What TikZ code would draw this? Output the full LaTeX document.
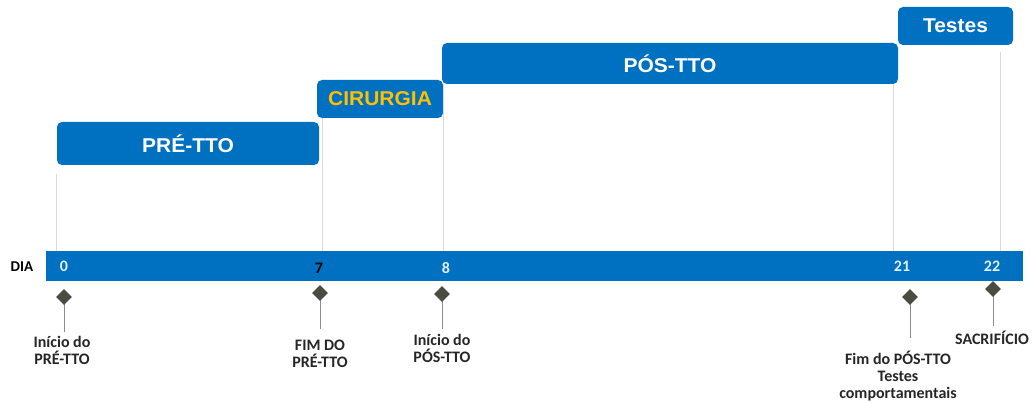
\documentclass[tikz,border=0pt]{standalone}
\usepackage{fontspec}
\setmainfont{Liberation Sans}
\newfontfamily\boxfont[FakeStretch=1.05]{Liberation Sans}
\newfontfamily\lblfont{Carlito}
\usetikzlibrary{shapes.geometric}
\definecolor{barblue}{HTML}{0070C0}
\definecolor{cirgold}{HTML}{FFC000}
\definecolor{markgray}{HTML}{4B4B42}
\definecolor{guidegray}{HTML}{DADADA}
\definecolor{stemgray}{HTML}{8C8C8C}
\definecolor{numlight}{HTML}{E2EEF9}
\begin{document}
\begin{tikzpicture}[x=1pt,y=-1pt,
  phase/.style={fill=barblue, rounded corners=5pt, text=white,
    font=\boxfont\bfseries\fontsize{20}{20}\selectfont, inner sep=0pt},
  guide/.style={draw=guidegray, line width=0.8pt},
  milestone/.style={diamond, fill=markgray, minimum width=16pt,
    minimum height=16pt, inner sep=0pt},
  stem/.style={draw=stemgray, line width=0.9pt},
  lbl/.style={font=\lblfont\bfseries\fontsize{16}{17}\selectfont,
    align=center, text=black!85, inner sep=0pt},
  daynum/.style={font=\lblfont\bfseries\fontsize{16}{16}\selectfont,
    inner sep=0pt, text=numlight}]

\useasboundingbox (0,0) rectangle (1032,403);

% phase boxes
\node[phase, minimum width=262pt, minimum height=43pt] (pre) at (188,143.5) {PRÉ-TTO};
\node[phase, minimum width=126pt, minimum height=38pt, text=cirgold] (cir) at (380,99) {CIRURGIA};
\node[phase, minimum width=456pt, minimum height=41pt] (pos) at (670,63.5) {PÓS-TTO};
\node[phase, minimum width=115pt, minimum height=38pt] (tst) at (955.5,26) {Testes};

% timeline bar
\node[fill=barblue, minimum width=977pt, minimum height=30pt, inner sep=0pt] (bar) at (534.5,266) {};
\node[lbl, font=\lblfont\bfseries\fontsize{15}{15}\selectfont, text=black] (dia) at (22,267) {DIA};

% guide lines from the phases down to the bar
\draw[guide] ([yshift=-9pt]pre.south west) -- (pre.south west |- bar.north);
\draw[guide] ([xshift=6pt]cir.south west) -- ([xshift=6pt]cir.south west |- bar.north);
\draw[guide] ([xshift=2pt]pos.south west) -- ([xshift=2pt]pos.south west |- bar.north);
\draw[guide] ([xshift=-5pt]pos.south east) -- ([xshift=-5pt]pos.south east |- bar.north);
\draw[guide] ([xshift=-13pt,yshift=-7pt]tst.south east) -- ([xshift=-13pt]tst.south east |- bar.north);

% day numbers
\node[daynum] (d0) at (64,266) {0};
\node[daynum, text=black] (d7) at (319,268) {7};
\node[daynum] (d8) at (446,268) {8};
\node[daynum] (d21) at (902,266) {21};
\node[daynum] (d22) at (992,266) {22};

% milestones
\coordinate (s0) at (64,332);
\coordinate (s7) at (320,329);
\coordinate (s8) at (442,329);
\coordinate (s21) at (910,338);
\coordinate (s22) at (993,326);
\draw[stem] (64,297) -- (s0);
\draw[stem] (320,293) -- (s7);
\draw[stem] (442,294) -- (s8);
\draw[stem] (910,297) -- (s21);
\draw[stem] (993,289) -- (s22);
\node[milestone] (m0) at (64,297) {};
\node[milestone] (m7) at (320,293) {};
\node[milestone] (m8) at (442,294) {};
\node[milestone] (m21) at (910,297) {};
\node[milestone] (m22) at (993,289) {};

% milestone labels
\node[lbl] (l0) at (62,350) {Início do\\PRÉ-TTO};
\node[lbl] (l7) at (320,354) {FIM DO\\PRÉ-TTO};
\node[lbl] (l8) at (442,348.5) {Início do\\PÓS-TTO};
\node[lbl] (l21) at (898,376) {Fim do PÓS-TTO\\Testes\\comportamentais};
\node[lbl] (l22) at (992,338) {SACRIFÍCIO};
\end{tikzpicture}
\end{document}
